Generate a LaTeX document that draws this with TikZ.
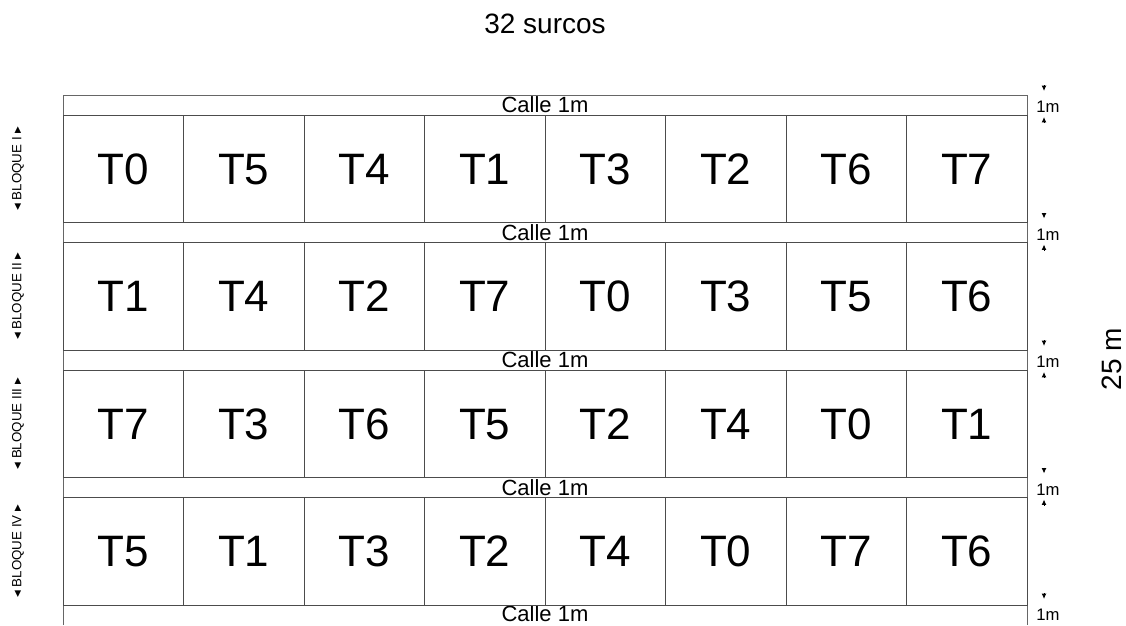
\documentclass[tikz,border=0pt]{standalone}
\usepackage{fontspec}
\setmainfont{Liberation Sans}
\newfontfamily\symfont{DejaVu Sans}
\usetikzlibrary{arrows.meta, positioning}

\begin{document}
\begin{tikzpicture}[
    x=0.75pt, y=-0.75pt,
    cellbox/.style={rectangle, draw=black!70, line width=0.5pt, minimum width=90.375pt, minimum height=80.625pt, inner sep=0pt, text height=23.6pt, text depth=0pt, font=\fontsize{33}{33}\selectfont},
    callebox/.style={rectangle, draw=black!60, line width=0.5pt, minimum width=723pt, minimum height=15pt, inner sep=0pt, font=\fontsize{16.5}{16.5}\selectfont},
    bloquelabel/.style={rotate=90, inner sep=0pt, font=\fontsize{10}{10}\selectfont},
    dimlabel/.style={inner sep=0pt, font=\fontsize{12.5}{12.5}\selectfont},
    dimtip/.style={-{Latex[length=4pt,width=3.6pt]}, line width=0.7pt}
]
\useasboundingbox (0,0) rectangle (1126,625);

% calles between the blocks
\foreach \i/\y in {1/105, 2/232.5, 3/360, 4/487.5}{
  \node[callebox] (calle\i) at (545,\y) {Calle 1m};
}
% last calle runs off the bottom edge
\coordinate (c5sw) at (63,625);
\coordinate (c5nw) at (63,605);
\coordinate (c5ne) at (1027,605);
\coordinate (c5se) at (1027,625);
\draw[black!60, line width=0.5pt] (c5sw) -- (c5nw) -- (c5ne) -- (c5se);
\node[callebox, draw=none, minimum width=0pt, minimum height=0pt, text depth=0pt] (calle5) at (545,614) {Calle 1m};

% 1m marks on the right
\foreach \i/\y in {1/105, 2/232.5, 3/360, 4/487.5, 5/613}{
  \node[dimlabel, text depth=0pt] (ancho\i) at (1048,\y+2) {1m};
  \coordinate (up\i a) at (1044,\y-20);
  \coordinate (up\i b) at (1044,\y-14);
  \coordinate (dn\i a) at (1044,\y+18);
  \coordinate (dn\i b) at (1044,\y+12);
  \draw[dimtip] (up\i a) -- (up\i b);
  \ifnum\i<5 \draw[dimtip] (dn\i a) -- (dn\i b); \fi
}

% blocks with treatments
\foreach \r/\y/\bl/\trts in {1/168.75/I/{T0,T5,T4,T1,T3,T2,T6,T7},
                             2/296.25/II/{T1,T4,T2,T7,T0,T3,T5,T6},
                             3/423.75/III/{T7,T3,T6,T5,T2,T4,T0,T1},
                             4/551.25/IV/{T5,T1,T3,T2,T4,T0,T7,T6}}{
  \node[bloquelabel] (bloque\r) at (18,\y) {{\symfont ◂} BLOQUE \bl{} {\symfont ▸}};
  \foreach \t [count=\c] in \trts {
    \node[cellbox] (c\r-\c) at ({2.75+120.5*\c},\y) {\t};
  }
}

% overall dimensions
\node[font=\fontsize{21}{21}\selectfont, inner sep=0pt] (surcos) at (545,24) {32 surcos};
\node[font=\fontsize{21}{21}\selectfont, inner sep=0pt, rotate=90] (largo) at (1112,359) {25 m};
\end{tikzpicture}
\end{document}
